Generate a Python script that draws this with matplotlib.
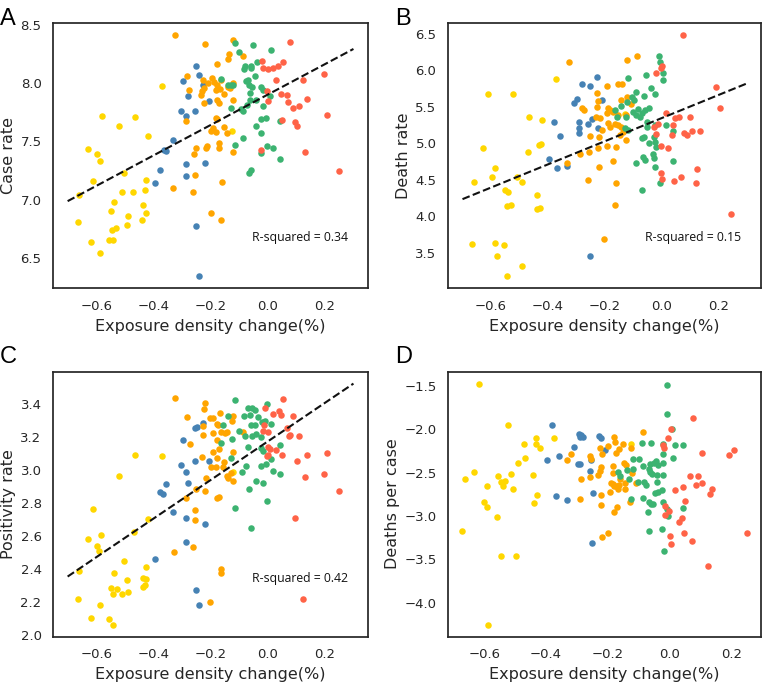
import numpy as np
import matplotlib
matplotlib.use("Agg")
import matplotlib.pyplot as plt

# group colours
GOLD = '#FFD700'
ORANGE = '#FFA500'
BLUE = '#4682B4'
GREEN = '#3CB371'
RED = '#FF6347'

XLABEL = 'Exposure density change(%)'

# ---------------- Panel A: case rate ----------------
a_gold_x = [-0.665, -0.659, -0.617, -0.627, -0.612, -0.596, -0.588, -0.586, -0.581, -0.550,
            -0.555, -0.544, -0.543, -0.539, -0.531, -0.521, -0.511, -0.503, -0.494, -0.488,
            -0.470, -0.464, -0.441, -0.435, -0.431, -0.427, -0.427, -0.419, -0.370, -0.126]
a_gold_y = [6.806, 7.043, 6.637, 7.430, 7.157, 7.391, 7.334, 6.543, 7.714, 6.906,
            6.651, 6.743, 6.651, 6.980, 6.754, 7.634, 7.063, 7.229, 6.786, 6.863,
            7.063, 7.709, 6.823, 6.957, 7.080, 7.171, 6.886, 7.549, 7.977, 7.591]
a_blue_x = [-0.252, -0.242, -0.296, -0.278, -0.226, -0.205, -0.305, -0.287, -0.255, -0.332,
            -0.364, -0.356, -0.376, -0.393, -0.287, -0.287, -0.220, -0.250, -0.240]
a_blue_y = [8.143, 8.066, 8.014, 7.891, 7.986, 7.843, 7.757, 7.714, 7.757, 7.514,
            7.423, 7.414, 7.257, 7.143, 7.309, 7.200, 7.314, 6.777, 6.343]
a_orange_x = [-0.323, -0.219, -0.120, -0.136, -0.140, -0.179, -0.087, -0.281, -0.275, -0.226,
              -0.222, -0.222, -0.196, -0.189, -0.208, -0.234, -0.231, -0.176, -0.166, -0.181,
              -0.164, -0.140, -0.131, -0.123, -0.152, -0.176, -0.170, -0.120, -0.287, -0.181,
              -0.176, -0.193, -0.199, -0.181, -0.154, -0.142, -0.172, -0.170, -0.252, -0.217,
              -0.213, -0.257, -0.122, -0.332, -0.254, -0.261, -0.161, -0.199, -0.163]
a_orange_y = [8.409, 8.334, 8.366, 8.251, 8.209, 8.166, 8.229, 8.057, 7.943, 8.029,
              7.957, 7.829, 8.043, 8.006, 8.000, 7.900, 7.929, 7.986, 7.949, 7.943,
              8.029, 7.966, 7.957, 8.000, 7.909, 7.857, 7.829, 7.857, 7.671, 7.700,
              7.694, 7.614, 7.586, 7.577, 7.623, 7.571, 7.486, 7.443, 7.443, 7.443,
              7.463, 7.394, 7.409, 7.100, 7.214, 7.063, 7.149, 6.886, 6.823]
a_green_x = [-0.114, -0.051, 0.013, -0.100, -0.081, -0.060, -0.036, -0.083, -0.057, -0.164,
             -0.140, -0.128, -0.120, -0.075, -0.069, -0.066, -0.046, -0.054, -0.022, -0.016,
             -0.063, -0.063, -0.040, 0.008, -0.128, -0.095, -0.087, -0.072, -0.016, -0.024,
             -0.007, -0.040, -0.024, 0.043, -0.087, -0.113, -0.004, 0.019, -0.022, 0.043,
             -0.060, -0.066]
a_green_y = [8.343, 8.329, 8.286, 8.263, 8.143, 8.143, 8.177, 8.120, 8.129, 8.034,
             7.986, 7.986, 7.986, 8.014, 8.029, 7.986, 8.063, 7.966, 7.966, 7.943,
             7.914, 7.857, 7.857, 7.886, 7.786, 7.777, 7.757, 7.814, 7.806, 7.694,
             7.700, 7.629, 7.571, 7.671, 7.529, 7.466, 7.457, 7.443, 7.400, 7.351,
             7.257, 7.229]
a_red_x = [0.078, -0.020, -0.016, 0.002, 0.020, 0.037, 0.052, 0.196, 0.123, 0.029,
           -0.004, 0.046, 0.067, 0.137, 0.002, 0.070, 0.088, 0.108, 0.208, 0.049,
           0.094, 0.102, 0.131, -0.024, 0.249]
a_red_y = [8.349, 8.186, 8.129, 8.120, 8.129, 8.143, 8.177, 8.080, 8.029, 8.023,
           7.929, 7.909, 7.900, 7.866, 7.843, 7.834, 7.786, 7.806, 7.729, 7.686,
           7.663, 7.634, 7.409, 7.423, 7.243]

# ---------------- Panel B: death rate ----------------
b_gold_x = [-0.612, -0.522, -0.371, -0.627, -0.586, -0.596, -0.659, -0.510, -0.489, -0.465,
            -0.419, -0.468, -0.430, -0.424, -0.551, -0.539, -0.545, -0.530, -0.439, -0.437,
            -0.428, -0.665, -0.586, -0.580, -0.554, -0.492, -0.545, -0.128]
b_gold_y = [5.673, 5.673, 5.877, 4.932, 4.668, 4.545, 4.464, 4.545, 4.464, 5.364,
            5.318, 4.886, 4.977, 4.991, 4.364, 4.327, 4.136, 4.159, 4.286, 4.105,
            4.114, 3.627, 3.636, 3.464, 3.605, 3.327, 3.182, 5.400]
b_blue_x = [-0.228, -0.281, -0.252, -0.296, -0.308, -0.208, -0.290, -0.289, -0.289, -0.246,
            -0.258, -0.222, -0.378, -0.357, -0.395, -0.367, -0.331, -0.252]
b_blue_y = [5.900, 5.805, 5.782, 5.600, 5.545, 5.591, 5.295, 5.205, 5.136, 5.332,
            5.264, 5.205, 5.295, 5.100, 4.782, 4.659, 4.691, 3.464]
b_orange_x = [-0.324, -0.123, -0.087, -0.281, -0.272, -0.226, -0.222, -0.228, -0.193, -0.152,
              -0.140, -0.144, -0.123, -0.109, -0.189, -0.181, -0.193, -0.170, -0.152, -0.126,
              -0.216, -0.231, -0.187, -0.162, -0.153, -0.211, -0.182, -0.144, -0.134, -0.146,
              -0.124, -0.252, -0.220, -0.287, -0.254, -0.222, -0.193, -0.160, -0.170, -0.334,
              -0.220, -0.260, -0.161, -0.163, -0.201]
b_orange_y = [6.114, 6.136, 6.195, 5.477, 5.455, 5.691, 5.582, 5.500, 5.782, 5.809,
              5.809, 5.591, 5.636, 5.536, 5.477, 5.455, 5.409, 5.432, 5.386, 5.386,
              5.341, 5.364, 5.282, 5.264, 5.250, 5.182, 5.218, 5.227, 5.159, 5.114,
              5.045, 5.100, 5.082, 4.855, 4.886, 4.932, 4.964, 4.955, 4.764, 4.727,
              4.682, 4.500, 4.455, 4.150, 3.691]
b_green_x = [-0.008, -0.005, 0.007, 0.005, -0.117, -0.054, -0.103, -0.088, -0.062, -0.038,
             -0.023, -0.123, -0.097, -0.142, -0.164, -0.158, -0.126, -0.099, -0.082, -0.070,
             -0.058, -0.043, -0.088, -0.076, -0.052, -0.052, -0.023, 0.016, 0.039, -0.128,
             -0.117, -0.070, -0.061, -0.043, -0.026, -0.023, -0.020, -0.029, -0.027, -0.064,
             -0.058, -0.090, -0.023, 0.042, -0.005, -0.070]
b_green_y = [6.195, 6.114, 5.955, 5.864, 5.895, 5.932, 5.636, 5.705, 5.645, 5.750,
             5.668, 5.568, 5.591, 5.509, 5.455, 5.364, 5.364, 5.432, 5.464, 5.409,
             5.455, 5.477, 5.386, 5.364, 5.295, 5.227, 5.250, 5.250, 5.173, 5.205,
             5.182, 5.068, 5.091, 5.009, 5.091, 5.014, 4.955, 4.850, 4.805, 4.818,
             4.773, 4.736, 4.682, 4.764, 4.455, 4.364]
b_red_x = [0.075, -0.019, -0.002, 0.003, 0.192, 0.206, 0.016, 0.048, 0.063, 0.100,
           -0.026, -0.014, 0.042, -0.020, 0.036, 0.079, 0.089, 0.106, 0.136, -0.003,
           0.024, -0.002, 0.001, 0.044, 0.068, 0.126, 0.122, 0.245]
b_red_y = [6.477, 5.964, 6.023, 6.055, 5.773, 5.477, 5.409, 5.341, 5.355, 5.355,
           5.227, 5.259, 5.250, 5.127, 5.114, 5.145, 5.114, 5.173, 5.173, 4.968,
           4.932, 4.591, 4.514, 4.477, 4.532, 4.645, 4.455, 4.036]

# ---------------- Panel C: positivity rate ----------------
c_gold_x = [-0.612, -0.629, -0.596, -0.582, -0.590, -0.659, -0.665, -0.617, -0.586, -0.555,
            -0.543, -0.550, -0.539, -0.540, -0.529, -0.511, -0.503, -0.494, -0.488, -0.521,
            -0.464, -0.370, -0.467, -0.419, -0.427, -0.437, -0.427, -0.437, -0.429, -0.120]
c_gold_y = [2.767, 2.580, 2.543, 2.604, 2.513, 2.387, 2.218, 2.107, 2.182, 2.101,
            2.066, 2.289, 2.375, 2.249, 2.279, 2.249, 2.452, 2.336, 2.263, 2.963,
            3.091, 3.087, 2.628, 2.706, 2.415, 2.350, 2.344, 2.293, 2.303, 2.986]
c_blue_x = [-0.296, -0.254, -0.246, -0.228, -0.305, -0.287, -0.254, -0.205, -0.356, -0.376,
            -0.368, -0.278, -0.331, -0.287, -0.220, -0.287, -0.393, -0.250, -0.240]
c_blue_y = [3.183, 3.254, 3.258, 3.284, 3.030, 2.990, 3.055, 3.055, 2.913, 2.868,
            2.852, 2.919, 2.746, 2.710, 2.671, 2.563, 2.462, 2.275, 2.182]
c_orange_x = [-0.323, -0.219, -0.222, -0.281, -0.202, -0.193, -0.166, -0.120, -0.226, -0.177,
              -0.173, -0.126, -0.226, -0.193, -0.164, -0.150, -0.144, -0.178, -0.087, -0.273,
              -0.170, -0.193, -0.120, -0.231, -0.176, -0.199, -0.181, -0.154, -0.155, -0.130,
              -0.142, -0.140, -0.120, -0.217, -0.250, -0.220, -0.287, -0.178, -0.170, -0.254,
              -0.254, -0.329, -0.260, -0.163, -0.163, -0.201]
c_orange_y = [3.437, 3.406, 3.370, 3.321, 3.311, 3.311, 3.345, 3.325, 3.264, 3.278,
              3.274, 3.294, 3.209, 3.223, 3.227, 3.223, 3.229, 3.183, 3.229, 3.158,
              3.126, 3.108, 3.106, 3.081, 3.075, 3.020, 3.020, 3.051, 3.020, 2.980,
              2.963, 2.949, 2.933, 2.949, 2.882, 2.872, 2.831, 2.831, 2.838, 2.756,
              2.700, 2.503, 2.537, 2.401, 2.377, 2.202]
c_green_x = [-0.114, -0.004, -0.069, -0.055, -0.046, -0.140, -0.083, -0.063, -0.034, -0.155,
             -0.060, -0.043, -0.020, 0.011, -0.010, -0.099, -0.040, -0.126, -0.081, -0.054,
             -0.025, -0.069, -0.164, -0.130, -0.023, -0.016, 0.043, 0.013, -0.077, -0.024,
             -0.007, 0.019, 0.043, -0.089, -0.040, -0.016, -0.066, -0.004, -0.114, -0.060]
c_green_y = [3.420, 3.400, 3.372, 3.372, 3.360, 3.325, 3.325, 3.331, 3.319, 3.274,
             3.274, 3.274, 3.288, 3.278, 3.294, 3.238, 3.217, 3.189, 3.203, 3.203,
             3.197, 3.136, 3.162, 3.075, 3.132, 3.116, 3.152, 3.065, 3.026, 3.026,
             3.035, 2.994, 2.976, 2.990, 2.933, 2.919, 2.882, 2.813, 2.773, 2.649]
c_red_x = [0.052, -0.010, 0.020, 0.041, 0.046, 0.087, -0.014, -0.016, 0.002, 0.067,
           0.073, 0.079, 0.108, 0.002, 0.008, 0.029, -0.004, 0.002, 0.049, 0.137,
           0.208, 0.102, 0.196, 0.131, 0.249, 0.094, 0.123]
c_red_y = [3.426, 3.376, 3.339, 3.356, 3.331, 3.325, 3.274, 3.233, 3.227, 3.254,
           3.203, 3.213, 3.203, 3.138, 3.126, 3.122, 3.085, 3.091, 3.091, 3.091,
           3.102, 3.055, 2.974, 2.957, 2.872, 2.710, 2.218]

# ---------------- Panel D: deaths per case ----------------
d_gold_x = [-0.616, -0.670, -0.662, -0.632, -0.524, -0.432, -0.373, -0.432, -0.420, -0.471,
            -0.468, -0.492, -0.514, -0.554, -0.532, -0.546, -0.540, -0.592, -0.506, -0.441,
            -0.430, -0.439, -0.599, -0.592, -0.559, -0.547, -0.497, -0.587, -0.126]
d_gold_y = [-1.473, -3.173, -2.577, -2.492, -1.950, -2.096, -2.096, -2.173, -2.219, -2.173,
            -2.335, -2.385, -2.512, -2.538, -2.596, -2.608, -2.654, -2.654, -2.692, -2.527,
            -2.758, -2.846, -2.838, -2.896, -3.008, -3.462, -3.462, -4.250, -2.170]
d_blue_x = [-0.379, -0.292, -0.285, -0.280, -0.290, -0.228, -0.222, -0.309, -0.209, -0.358,
            -0.395, -0.295, -0.290, -0.254, -0.257, -0.368, -0.333, -0.247, -0.252]
d_blue_y = [-1.950, -2.050, -2.069, -2.085, -2.085, -2.077, -2.104, -2.204, -2.242, -2.308,
            -2.354, -2.404, -2.404, -2.354, -2.481, -2.765, -2.819, -2.731, -3.308]
d_orange_x = [-0.320, -0.333, -0.285, -0.290, -0.257, -0.254, -0.224, -0.222, -0.224, -0.230,
              -0.259, -0.222, -0.222, -0.219, -0.198, -0.217, -0.198, -0.180, -0.177, -0.163,
              -0.172, -0.150, -0.183, -0.183, -0.188, -0.194, -0.183, -0.180, -0.172, -0.163,
              -0.167, -0.159, -0.148, -0.142, -0.145, -0.145, -0.169, -0.180, -0.129, -0.126,
              -0.087, -0.107, -0.123]
d_orange_y = [-2.288, -2.358, -2.569, -2.800, -2.308, -2.346, -2.212, -2.431, -2.481, -2.527,
              -2.550, -2.758, -2.877, -3.238, -3.192, -2.288, -2.192, -2.085, -2.142, -2.231,
              -2.277, -2.165, -2.423, -2.508, -2.615, -2.723, -2.635, -2.654, -2.654, -2.646,
              -2.685, -2.577, -2.392, -2.415, -2.623, -2.685, -2.896, -2.954, -2.838, -2.212,
              -2.031, -2.615, -2.500]
d_green_x = [-0.007, -0.007, 0.007, 0.018, 0.043, 0.010, -0.090, -0.061, -0.022, -0.022,
             -0.020, -0.117, -0.098, -0.085, -0.063, -0.050, -0.043, -0.036, -0.166, -0.159,
             -0.139, -0.131, -0.117, -0.068, -0.064, -0.057, -0.039, -0.022, -0.101, -0.082,
             -0.076, -0.041, -0.047, -0.036, -0.025, -0.126, -0.085, -0.068, -0.061, -0.053,
             -0.070, -0.020, -0.007, -0.004, 0.043, -0.067, -0.023, -0.017]
d_green_y = [-1.488, -1.819, -2.000, -2.181, -2.181, -2.327, -2.154, -2.154, -2.173, -2.288,
             -2.385, -2.338, -2.346, -2.423, -2.404, -2.385, -2.365, -2.415, -2.492, -2.538,
             -2.469, -2.569, -2.462, -2.462, -2.492, -2.519, -2.531, -2.531, -2.608, -2.608,
             -2.646, -2.608, -2.731, -2.723, -2.700, -2.800, -2.788, -2.838, -2.865, -2.865,
             -2.954, -2.838, -2.923, -3.000, -2.904, -3.173, -3.154, -3.404]
d_red_x = [0.077, 0.004, -0.004, -0.022, -0.017, 0.104, 0.208, 0.192, 0.066, 0.093,
           0.085, 0.106, 0.043, 0.018, 0.136, 0.131, 0.051, -0.015, -0.001, -0.015,
           0.040, 0.029, 0.001, 0.006, 0.047, 0.072, 0.125, 0.250]
d_red_y = [-1.865, -1.992, -2.104, -2.181, -2.219, -2.269, -2.238, -2.300, -2.538, -2.538,
           -2.646, -2.623, -2.662, -2.704, -2.685, -2.750, -2.827, -2.885, -2.942, -2.992,
           -3.019, -3.069, -3.231, -3.327, -3.192, -3.288, -3.577, -3.200]

# reported linear fits (slope, intercept) for panels A, B, C
fit_slope = [1.305, 1.582, 1.166]
fit_intercept = [7.900, 5.343, 3.172]
fit_span = [-0.7, 0.3]
r_squared = ['0.34', '0.15', '0.42']

plt.rcParams['font.family'] = 'DejaVu Sans'
plt.rcParams['axes.edgecolor'] = '#262626'
plt.rcParams['axes.linewidth'] = 1.25


def draw_panel(ax, groups, ylabel, fit=None, r2=None, r2_y=0.19):
    # groups: list of (x, y, colour)
    for gx, gy, col in groups:
        ax.scatter(gx, gy, s=22, color=col, linewidths=0, zorder=2)
    if fit is not None:
        slope, icpt = fit
        lx = np.array(fit_span)
        ax.plot(lx, slope * lx + icpt, ls='--', color='#111111', lw=1.5, zorder=3)
        ax.text(0.937, r2_y, 'R-squared = ' + r2, transform=ax.transAxes, ha='right',
                va='center', fontsize=8.8, family='Open Sans', color='#111111')
    ax.set_xticks([-0.6, -0.4, -0.2, 0.0, 0.2])
    ax.tick_params(length=0, pad=8.5, labelsize=9.5, labelcolor='#262626')
    ax.set_xlabel(XLABEL, fontsize=11.5, color='#262626', labelpad=4)
    ax.set_ylabel(ylabel, fontsize=11.5, color='#262626', labelpad=3)


fig = plt.figure(figsize=(7.62, 6.83), dpi=100)
axA = fig.add_axes([0.070, 0.578, 0.4126, 0.388])
axB = fig.add_axes([0.5883, 0.578, 0.4104, 0.388])
axC = fig.add_axes([0.070, 0.068, 0.4126, 0.388])
axD = fig.add_axes([0.5883, 0.068, 0.4104, 0.388])

draw_panel(axA, [(a_gold_x, a_gold_y, GOLD), (a_blue_x, a_blue_y, BLUE),
                 (a_orange_x, a_orange_y, ORANGE), (a_green_x, a_green_y, GREEN),
                 (a_red_x, a_red_y, RED)], 'Case rate',
           (fit_slope[0], fit_intercept[0]), r_squared[0])
axA.set_yticks([6.5, 7.0, 7.5, 8.0, 8.5])

draw_panel(axB, [(b_gold_x, b_gold_y, GOLD), (b_blue_x, b_blue_y, BLUE),
                 (b_orange_x, b_orange_y, ORANGE), (b_green_x, b_green_y, GREEN),
                 (b_red_x, b_red_y, RED)], 'Death rate',
           (fit_slope[1], fit_intercept[1]), r_squared[1])
axB.set_yticks([3.5, 4.0, 4.5, 5.0, 5.5, 6.0, 6.5])

draw_panel(axC, [(c_gold_x, c_gold_y, GOLD), (c_blue_x, c_blue_y, BLUE),
                 (c_orange_x, c_orange_y, ORANGE), (c_green_x, c_green_y, GREEN),
                 (c_red_x, c_red_y, RED)], 'Positivity rate',
           (fit_slope[2], fit_intercept[2]), r_squared[2], r2_y=0.22)
axC.set_yticks([2.0, 2.2, 2.4, 2.6, 2.8, 3.0, 3.2, 3.4])

draw_panel(axD, [(d_gold_x, d_gold_y, GOLD), (d_blue_x, d_blue_y, BLUE),
                 (d_orange_x, d_orange_y, ORANGE), (d_green_x, d_green_y, GREEN),
                 (d_red_x, d_red_y, RED)], 'Deaths per case')
axD.set_yticks([-4.0, -3.5, -3.0, -2.5, -2.0, -1.5])

# panel letters
for lx, ly, letter in [(0.0, 0.9634, 'A'), (0.518, 0.9634, 'B'),
                       (0.0, 0.4685, 'C'), (0.518, 0.4685, 'D')]:
    fig.text(lx, ly, letter, fontsize=17, family='Liberation Sans', va='baseline', ha='left')

fig.savefig('out.png', dpi=100)
